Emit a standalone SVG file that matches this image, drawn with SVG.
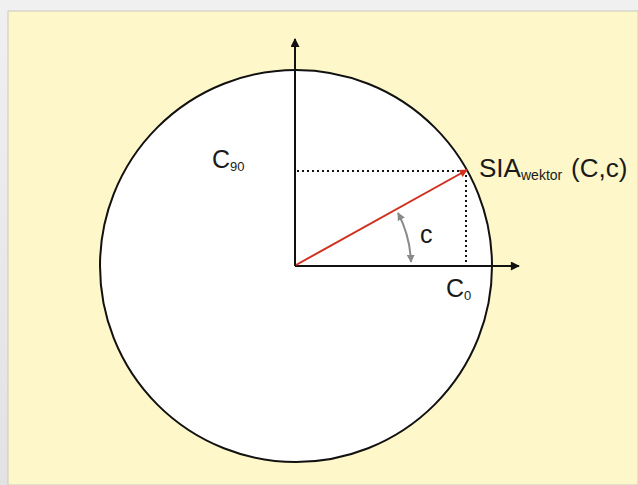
<svg xmlns="http://www.w3.org/2000/svg" width="638" height="485" viewBox="0 0 638 485">
<style>
.t{font-family:"Liberation Sans",Arial,sans-serif;fill:#1a1a1a}
.m{font-size:25px}
.s{font-size:13px}
.ax{stroke:#111;stroke-width:2;fill:none}
.dot{stroke:#111;stroke-width:2;stroke-dasharray:2 3;fill:none}
</style>
<defs>
<linearGradient id="sh" x1="0" y1="0" x2="0" y2="1"><stop offset="0" stop-color="#e6e6e6"/><stop offset="1" stop-color="#cfcfcf"/></linearGradient>
<marker id="ak" viewBox="0 0 10 10" refX="9" refY="5" markerWidth="10" markerHeight="9" markerUnits="userSpaceOnUse" orient="auto"><path d="M0,0 L10,5 L0,10 z" fill="#111"/></marker>
<marker id="ar" viewBox="0 0 10 10" refX="9" refY="5" markerWidth="10" markerHeight="8" markerUnits="userSpaceOnUse" orient="auto"><path d="M0,0 L10,5 L0,10 z" fill="#d2301e"/></marker>
<marker id="ag" viewBox="0 0 10 10" refX="9" refY="5" markerWidth="8" markerHeight="8" markerUnits="userSpaceOnUse" orient="auto-start-reverse"><path d="M0,0 L10,5 L0,10 z" fill="#8a8a8a"/></marker>
</defs>
<rect x="0" y="0" width="638" height="485" fill="#ffffff"/>
<rect x="0" y="0" width="638" height="485" fill="url(#sh)" opacity="0.6"/>
<rect x="8" y="11" width="630" height="474" fill="#fdf7c9" stroke="#c8c8c0" stroke-width="1"/>
<g id="circle"><circle cx="296" cy="266" r="196" fill="#ffffff" stroke="#111" stroke-width="2"/></g>
<g id="connectors">
<line class="ax" x1="295" y1="266" x2="295" y2="39" marker-end="url(#ak)"/>
<line class="ax" x1="295" y1="266" x2="519" y2="266" marker-end="url(#ak)"/>
<line class="dot" x1="297" y1="171" x2="462" y2="171"/>
<line class="dot" x1="466" y1="175" x2="466" y2="264"/>
<line x1="296" y1="265" x2="467" y2="170" stroke="#d2301e" stroke-width="2" marker-end="url(#ar)"/>
<path d="M398,213 A115,115 0 0 1 411,262" fill="none" stroke="#8a8a8a" stroke-width="2" marker-start="url(#ag)" marker-end="url(#ag)"/>
</g>
<g id="labels">
<text class="t m" x="212" y="168">C<tspan class="s" dy="3">90</tspan></text>
<text class="t m" x="446" y="297">C<tspan class="s" dy="3">0</tspan></text>
<text class="t m" x="420" y="243">c</text>
<text class="t" x="479" y="177" style="font-size:26px">SIA<tspan x="521" dy="3" style="font-size:14px">wektor</tspan><tspan x="571" dy="-3">(C,c)</tspan></text>
</g>
</svg>
